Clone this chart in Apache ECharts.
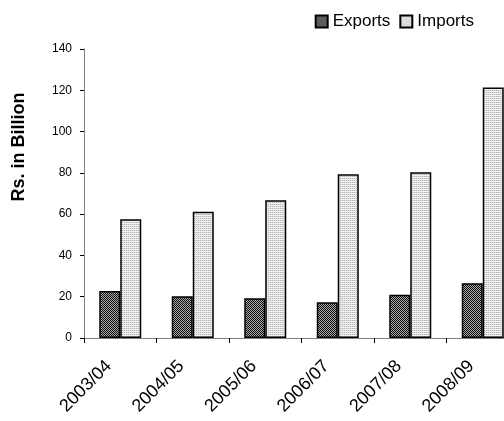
<!DOCTYPE html>
<html>
<head>
<meta charset="utf-8">
<script src="https://cdn.jsdelivr.net/npm/echarts@6/dist/echarts.min.js"></script>
<style>
  html, body { margin: 0; padding: 0; background: #fff; overflow: hidden; }
  /* plot area runs slightly past the right edge of the window */
  #chart { width: 519px; height: 421px; }
</style>
</head>
<body>
<div id="chart"></div>
<script>
// Trade values, Rs. in Billion
const years = ['2003/04', '2004/05', '2005/06', '2006/07', '2007/08', '2008/09'];
const exportsValues = [22.8, 20.2, 19.3, 17.3, 21.0, 26.5];
const importsValues = [57.5, 61.2, 66.7, 79.3, 80.3, 121.3];
const yTicks = { min: 0, max: 140, step: 20 };

// Small repeating fills for the bars
function makePattern(w, h, paint) {
  const c = document.createElement('canvas');
  c.width = w; c.height = h;
  const ctx = c.getContext('2d');
  paint(ctx);
  return { image: c, repeat: 'repeat' };
}

const exportsFill = makePattern(2, 2, ctx => {
  ctx.fillStyle = '#a8a8a8'; ctx.fillRect(0, 0, 2, 2);
  ctx.fillStyle = '#101010'; ctx.fillRect(0, 0, 1, 1); ctx.fillRect(1, 1, 1, 1);
});

const importsFill = makePattern(2, 2, ctx => {
  ctx.fillStyle = '#f2f2f2'; ctx.fillRect(0, 0, 2, 2);
  ctx.fillStyle = '#b4b4b4'; ctx.fillRect(0, 0, 1, 1);
  ctx.fillStyle = '#dadada'; ctx.fillRect(1, 0, 1, 1);
});

const chart = echarts.init(document.getElementById('chart'), null, { renderer: 'canvas' });

const axisGray = '#808080';
const font = 'Arial, "Liberation Sans", sans-serif';

chart.setOption({
  animation: false,
  backgroundColor: '#fff',
  textStyle: { fontFamily: font },
  legend: {
    right: 40,
    top: 8,
    icon: 'rect',
    itemWidth: 12,
    itemHeight: 12,
    itemGap: 9,
    textStyle: { fontSize: 17, color: '#000', fontFamily: font },
    data: ['Exports', 'Imports']
  },
  graphic: [{
    type: 'text',
    x: 19,
    y: 147,
    rotation: Math.PI / 2,
    style: {
      text: 'Rs. in Billion',
      fontSize: 18,
      fontWeight: 'bold',
      fontFamily: font,
      fill: '#000',
      align: 'center',
      verticalAlign: 'middle'
    }
  }],
  grid: { left: 84, right: 0, top: 49, bottom: 83, containLabel: false },
  xAxis: {
    type: 'category',
    data: years,
    axisLine: { lineStyle: { color: axisGray, width: 1 } },
    axisTick: { show: true, alignWithLabel: false, length: 5, lineStyle: { color: '#000' } },
    axisLabel: {
      rotate: 45, fontSize: 18, color: '#000', margin: 14,
      padding: [0, 16, 0, 0], fontFamily: font
    }
  },
  yAxis: {
    type: 'value',
    min: yTicks.min,
    max: yTicks.max,
    interval: yTicks.step,
    axisLine: { show: true, lineStyle: { color: axisGray, width: 1 } },
    axisTick: { show: true, length: 4, lineStyle: { color: '#000' } },
    axisLabel: { fontSize: 12, color: '#000', margin: 12, fontFamily: font },
    splitLine: { show: false }
  },
  series: [
    {
      name: 'Exports',
      type: 'bar',
      data: exportsValues,
      barWidth: 21,
      barGap: '0%',
      itemStyle: { color: exportsFill, borderColor: '#000', borderWidth: 1.5 }
    },
    {
      name: 'Imports',
      type: 'bar',
      data: importsValues,
      barWidth: 21,
      barGap: '0%',
      itemStyle: { color: importsFill, borderColor: '#000', borderWidth: 1.5 }
    }
  ]
});
</script>
</body>
</html>
